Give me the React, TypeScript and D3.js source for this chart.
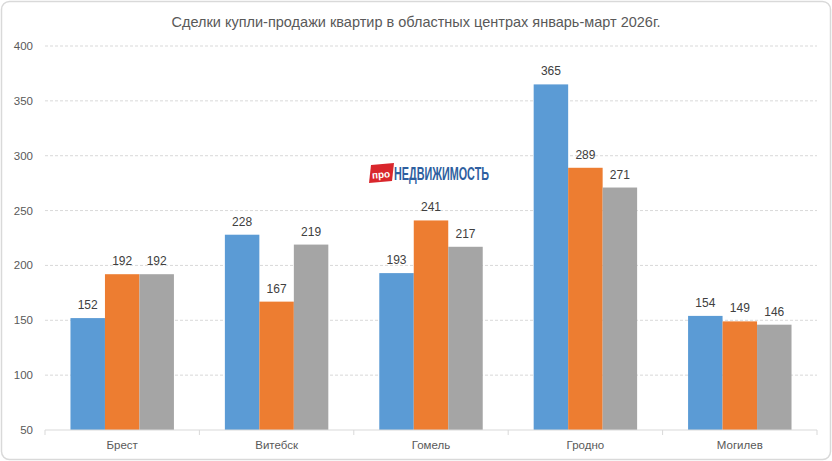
import React from 'react'
import * as d3 from 'd3'

const cities = ['Брест', 'Витебск', 'Гомель', 'Гродно', 'Могилев']
const series1 = [152, 228, 193, 365, 154]
const series2 = [192, 167, 241, 289, 149]
const series3 = [192, 219, 217, 271, 146]
const yTicks = [50, 100, 150, 200, 250, 300, 350, 400]
const colors = ['#5b9bd5', '#ed7d31', '#a5a5a5']
const title = 'Сделки купли-продажи квартир в областных центрах январь-март 2026г.'

const W = 832
const H = 461
const left = 45
const right = 817
const top = 46
const bottom = 430
const font = '"Liberation Sans", Arial, sans-serif'

export default function App() {
  const x = d3.scaleBand<string>().domain(cities).range([left, right])
  const inner = d3.scaleBand<number>().domain([0, 1, 2]).range([0, x.bandwidth() * 0.67])
  const y = d3.scaleLinear().domain([50, 400]).range([bottom, top])
  const allSeries = [series1, series2, series3]
  const groupOffset = (x.bandwidth() - x.bandwidth() * 0.67) / 2

  return (
    <svg width={W} height={H} style={{ position: 'absolute', left: 0, top: 0 }} fontFamily={font}>
      <rect x={1.5} y={1.5} width={W - 3} height={H - 3} rx={8} fill="#fff" stroke="#d9d9d9" strokeWidth={1.5} />
      <text x={416} y={27} textAnchor="middle" fontSize={14.5} fill="#595959">{title}</text>

      {yTicks.map((t) => (
        <g key={t}>
          {t > 50 && (
            <line x1={left} x2={right} y1={y(t)} y2={y(t)} stroke="#d9d9d9" strokeDasharray="3,2" />
          )}
          <text x={33} y={y(t) + 4} textAnchor="end" fontSize={11.5} fill="#595959">{t}</text>
        </g>
      ))}

      {/* logo */}
      <g>
        <path d="M371,165 L394,163 L392,181 L369,183 Z" fill="#d9262c" />
        <text x={381} y={178} textAnchor="middle" fontSize={10} fontWeight="bold" fill="#fff" transform="rotate(-5 381 174)">про</text>
        <text x={394} y={180} fontSize={18} fontWeight="bold" fill="#2e5fa0" textLength={95} lengthAdjust="spacingAndGlyphs">НЕДВИЖИМОСТЬ</text>
      </g>

      {cities.map((c, i) => (
        <g key={c}>
          {allSeries.map((s, k) => {
            const bx = (x(c) ?? 0) + groupOffset + (inner(k) ?? 0)
            return (
              <g key={k}>
                <rect x={bx} y={y(s[i])} width={inner.bandwidth()} height={bottom - y(s[i])} fill={colors[k]} />
                <text x={bx + inner.bandwidth() / 2} y={y(s[i]) - 9} textAnchor="middle" fontSize={12} fill="#404040">{s[i]}</text>
              </g>
            )
          })}
          <text x={(x(c) ?? 0) + x.bandwidth() / 2} y={449} textAnchor="middle" fontSize={11.5} fill="#595959">{c}</text>
        </g>
      ))}

      <line x1={left} x2={right} y1={bottom} y2={bottom} stroke="#d9d9d9" />
      {[...cities.map((c) => x(c) ?? 0), right].map((v, i) => (
        <line key={i} x1={v} x2={v} y1={bottom} y2={bottom + 5} stroke="#d9d9d9" />
      ))}
    </svg>
  )
}
